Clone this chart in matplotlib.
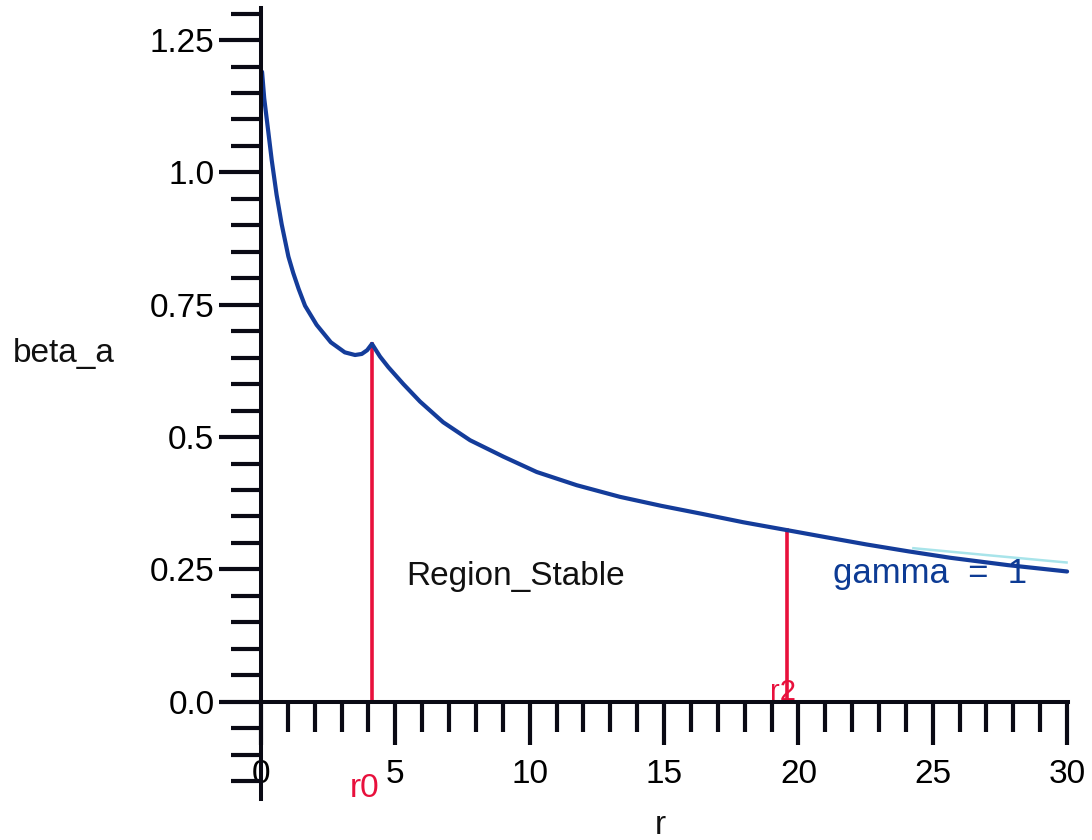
import matplotlib
matplotlib.use('Agg')
import matplotlib.pyplot as plt
from matplotlib.ticker import FixedLocator, FixedFormatter

plt.rcParams['font.family'] = ['Liberation Sans', 'DejaVu Sans']

# beta_a against r for gamma = 1
r_vals = [0.04, 0.12, 0.25, 0.40, 0.58, 0.77, 1.02, 1.2, 1.4, 1.64, 2.07, 2.6, 3.12, 3.5,
          3.75, 3.95, 4.13, 4.43, 4.74, 5.3, 5.92, 6.78, 7.78, 9.02, 10.26, 11.75, 13.36,
          14.9, 16.4, 17.95, 19.59, 21.0, 22.54, 24.1, 25.64, 27.8, 30.0]
beta_vals = [1.19, 1.14, 1.086, 1.023, 0.958, 0.902, 0.841, 0.810, 0.780, 0.748, 0.712, 0.679,
             0.660, 0.655, 0.657, 0.664, 0.676, 0.652, 0.632, 0.600, 0.567, 0.528, 0.494, 0.463,
             0.434, 0.409, 0.387, 0.370, 0.355, 0.339, 0.324, 0.311, 0.297, 0.284, 0.272, 0.258,
             0.246]

# faint second trace near the right end
r_faint = [24.28, 27.0, 29.98]
beta_faint = [0.290, 0.277, 0.263]

# boundary points of the stable region
r0 = 4.13
r2 = 19.59
beta_r0 = 0.676
beta_r2 = 0.324

y_major = [0.0, 0.25, 0.5, 0.75, 1.0, 1.25]
y_labels = ['0.0', '0.25', '0.5', '0.75', '1.0', '1.25']
y_minor = [round(-0.15 + 0.05 * i, 2) for i in range(30)]
x_major = [0, 5, 10, 15, 20, 25, 30]
x_labels = ['0', '5', '10', '15', '20', '25', '30']
x_minor = list(range(1, 30))

blue = '#143c9a'
red = '#e8103c'
fs = 24

fig = plt.figure(figsize=(10.92, 8.4), dpi=100)
ax = fig.add_axes([0, 0, 1, 1])
ax.set_xlim(-9.713, 30.927)
ax.set_ylim(-0.2613, 1.3257)

# axes crossing at the origin
for side in ['top', 'right']:
    ax.spines[side].set_visible(False)
ax.spines['left'].set_position(('data', 0))
ax.spines['bottom'].set_position(('data', 0))
ax.spines['left'].set_bounds(-0.184, 1.311)
ax.spines['bottom'].set_bounds(0, 30.03)
for side in ['left', 'bottom']:
    ax.spines[side].set_linewidth(2.9)
    ax.spines[side].set_color('#0a0a14')
    ax.spines[side].set_zorder(4)

ax.xaxis.set_major_locator(FixedLocator(x_major))
ax.xaxis.set_major_formatter(FixedFormatter(x_labels))
ax.xaxis.set_minor_locator(FixedLocator(x_minor))
ax.yaxis.set_major_locator(FixedLocator(y_major))
ax.yaxis.set_major_formatter(FixedFormatter(y_labels))
ax.yaxis.set_minor_locator(FixedLocator([v for v in y_minor if v not in y_major]))

ax.tick_params(axis='both', which='both', direction='out', width=3.0, color='#0a0a14')
ax.tick_params(axis='x', which='major', length=31, pad=10.5, labelsize=fs)
ax.tick_params(axis='x', which='minor', length=21.5)
ax.tick_params(axis='y', which='major', length=30, pad=3.5, labelsize=fs)
ax.tick_params(axis='y', which='minor', length=21.5)

# vertical markers at r0 and r2
ax.plot([r0, r0], [0, beta_r0], color=red, lw=2.6, zorder=2)
ax.plot([r2, r2], [0, beta_r2], color=red, lw=2.6, zorder=2)

ax.plot(r_faint, beta_faint, color='#a8e4ea', lw=1.8, zorder=2)
ax.plot(r_vals, beta_vals, color=blue, lw=3.0, zorder=3,
        solid_joinstyle='round', solid_capstyle='round')

ax.text(5.42, 0.2205, 'Region_Stable', fontsize=fs, color='#111111')
ax.text(21.28, 0.225, 'gamma  =  1', fontsize=fs + 1, color='#0d3b94')
ax.text(3.31, -0.1795, 'r0', fontsize=fs, color=red)
ax.text(18.94, 0.003, 'r2', fontsize=fs - 3, color=red)
ax.text(-9.22, 0.642, 'beta_a', fontsize=fs, color='#111111')
ax.text(14.85, -0.250, 'r', fontsize=fs, color='#111111', ha='center')

fig.savefig('out.png', dpi=100)
